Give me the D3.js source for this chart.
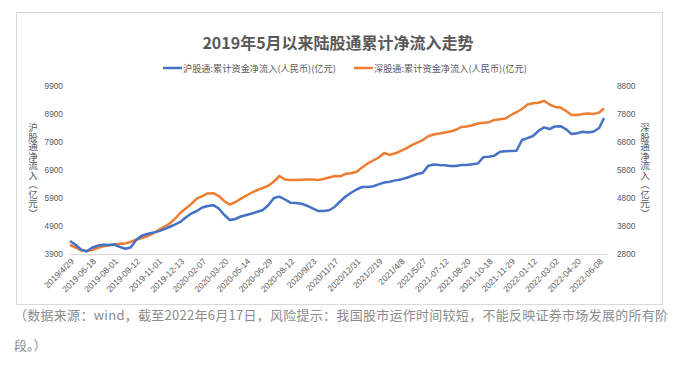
<!DOCTYPE html>
<html><head><meta charset="utf-8">
<script src="https://cdn.jsdelivr.net/npm/d3@7/dist/d3.min.js"></script>
<style>
html,body{margin:0;padding:0;background:#fff;}
svg{display:block;font-family:"Noto Sans CJK SC","Liberation Sans",sans-serif;}
</style></head>
<body>
<svg id="chart" width="686" height="368"></svg>
<script>
// ---- data ----
const title = "2019年5月以来陆股通累计净流入走势";
const seriesNames = ["沪股通:累计资金净流入(人民币)(亿元)", "深股通:累计资金净流入(人民币)(亿元)"];
const axisTitles = ["沪股通净流入（亿元）", "深股通净流入（亿元）"];
const xLabels = ["2019/4/29","2019-06-18","2019-08-01","2019-09-12","2019-11-01","2019-12-13","2020-02-07","2020-03-20","2020-05-14","2020-06-29","2020-08-12","2020/9/23","2020/11/17","2020/12/31","2021/2/19","2021/4/8","2021/5/27","2021-07-12","2021-08-20","2021-10-18","2021-11-29","2022-01-12","2022-03-02","2022-04-20","2022-06-08"];
const labelInterval = 32;   // trading days between axis labels
const sampleInterval = 8;   // trading days between samples
const lastDay = 775;        // trading-day index of 2022-06-17
const leftTicks = [3900,4900,5900,6900,7900,8900,9900];
const rightTicks = [2800,3800,4800,5800,6800,7800,8800];
// 沪股通 cumulative net inflow (亿元), sampled every 8 trading days, last = 2022-06-17
const shValues = [4364,4229,4064,3986,4125,4196,4229,4221,4239,4154,4086,4132,4400,4554,4614,4661,4707,4779,4864,4946,
 5043,5204,5346,5436,5561,5614,5643,5525,5293,5114,5150,5239,5293,5346,5407,5471,5650,5900,5950,5846,
 5732,5721,5693,5625,5529,5436,5436,5464,5579,5775,5954,6086,6204,6293,6293,6318,6386,6454,6482,6529,
 6564,6614,6686,6757,6800,7050,7096,7079,7068,7043,7043,7079,7079,7107,7132,7364,7375,7414,7550,7571,
 7579,7589,7971,8039,8114,8300,8421,8364,8454,8464,8354,8182,8211,8264,8243,8275,8400,8757];
// 深股通 cumulative net inflow (亿元)
const szValues = [3121,3032,2929,2914,2943,3014,3075,3100,3136,3164,3179,3229,3311,3371,3436,3532,3643,3761,3879,4050,
 4264,4429,4586,4775,4871,4964,4971,4871,4686,4564,4657,4779,4882,4996,5086,5157,5239,5389,5586,5461,
 5443,5443,5450,5461,5461,5443,5479,5532,5586,5575,5664,5682,5736,5893,6036,6139,6246,6407,6339,6396,
 6479,6575,6686,6779,6868,7007,7068,7107,7143,7171,7236,7336,7357,7400,7461,7489,7507,7589,7611,7639,
 7764,7864,7979,8136,8182,8200,8271,8139,8054,8029,7907,7764,7764,7796,7818,7804,7854,7996];
const colors = ["#4472C4", "#ED7D31"];
const caption1 = "（数据来源：wind，截至2022年6月17日，风险提示：我国股市运作时间较短，不能反映证券市场发展的所有阶";
const caption2 = "段。）";

// ---- chart ----
const svg = d3.select("#chart");
const textCol = "#595959";

// frame
svg.append("rect").attr("x",16.5).attr("y",12.5).attr("width",646).attr("height",292)
  .attr("fill","none").attr("stroke","#d9d9d9").attr("stroke-width",1);

const dayOf = (i, n) => i === n - 1 ? lastDay : i * sampleInterval;
const x = d3.scaleLinear().domain([0, lastDay]).range([70, 604]);
const yL = d3.scaleLinear().domain([3900, 9900]).range([254, 86]);
const yR = d3.scaleLinear().domain([2800, 8800]).range([254, 86]);

// title
svg.append("text").attr("x", 338).attr("y", 49).attr("text-anchor","middle")
  .attr("font-size", 16).attr("font-weight","bold").attr("fill", textCol).text(title);

// legend
const legX = [163, 354];
seriesNames.forEach((nm, k) => {
  svg.append("line").attr("x1", legX[k]).attr("x2", legX[k]+19).attr("y1", 68).attr("y2", 68)
    .attr("stroke", colors[k]).attr("stroke-width", 2.5);
  svg.append("text").attr("x", legX[k]+20).attr("y", 71.5).attr("font-size", 9.2)
    .attr("fill", textCol).text(nm);
});

// baseline
svg.append("line").attr("x1", 70).attr("x2", 607).attr("y1", 254.5).attr("y2", 254.5)
  .attr("stroke", "#d9d9d9").attr("stroke-width", 1);

// axes
const gL = svg.append("g").attr("transform","translate(63,0)")
  .call(d3.axisLeft(yL).tickValues(leftTicks).tickSize(0).tickPadding(0).tickFormat(d3.format("d")));
const gR = svg.append("g").attr("transform","translate(617,0)")
  .call(d3.axisRight(yR).tickValues(rightTicks).tickSize(0).tickPadding(0).tickFormat(d3.format("d")));
[gL, gR].forEach(g => {
  g.select(".domain").remove();
  g.selectAll("text").attr("font-size", 8.3).attr("fill", textCol)
    .attr("font-family", "'Liberation Sans',Arial,sans-serif");
});

const labelDays = xLabels.map((d, i) => i * labelInterval);
const gX = svg.append("g").attr("transform","translate(0,254)")
  .call(d3.axisBottom(x).tickValues(labelDays).tickSize(0).tickFormat((d, i) => xLabels[i]));
gX.select(".domain").remove();
gX.selectAll("text").attr("font-size", 8.5).attr("fill", textCol)
  .attr("font-family", "'Liberation Sans',Arial,sans-serif")
  .attr("text-anchor","end").attr("dy", null).attr("y", 0)
  .attr("transform", "translate(4,8) rotate(-45)");

// axis titles (vertical)
[[33, axisTitles[0]], [645, axisTitles[1]]].forEach(([xx, t]) => {
  svg.append("text").attr("x", xx).attr("y", 123)
    .attr("font-size", 9.5).attr("fill", textCol)
    .style("writing-mode", "vertical-rl").style("text-orientation", "upright")
    .text(t);
});

// lines
const mk = (ys) => d3.line().x((d, i, arr) => x(dayOf(i, arr.length))).y(d => ys(d));
svg.append("path").datum(szValues).attr("d", mk(yR)).attr("fill","none")
  .attr("stroke", colors[1]).attr("stroke-width", 2.5).attr("stroke-linejoin","round");
svg.append("path").datum(shValues).attr("d", mk(yL)).attr("fill","none")
  .attr("stroke", colors[0]).attr("stroke-width", 2.5).attr("stroke-linejoin","round");

// caption
svg.append("text").attr("x", 14).attr("y", 320).attr("font-size", 13).attr("fill", "#8c8c8c")
  .attr("textLength", 654).attr("lengthAdjust", "spacing").text(caption1);
svg.append("text").attr("x", 14).attr("y", 350).attr("font-size", 13).attr("fill", "#8c8c8c")
  .text(caption2);
</script>
</body></html>
